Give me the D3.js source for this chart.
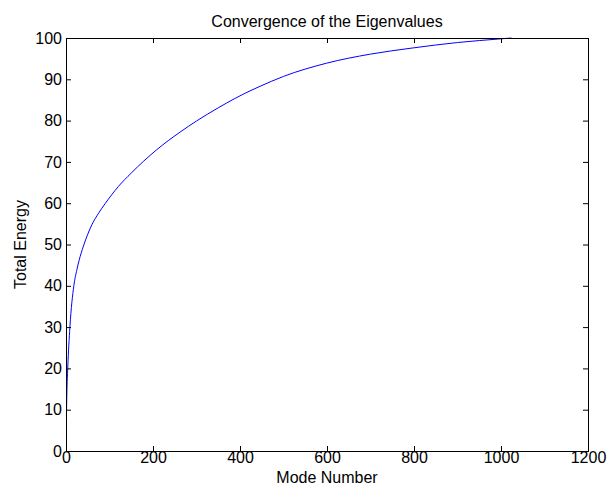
<!DOCTYPE html>
<html>
<head>
<meta charset="utf-8">
<script src="https://cdn.jsdelivr.net/npm/d3@7"></script>
<style>
body { margin: 0; background: #fff; }
text { font-family: "Liberation Sans", Arial, sans-serif; }
</style>
</head>
<body>
<svg id="chart" width="609" height="491"></svg>
<script>
// values
var modes  = [1, 2, 4, 9, 18, 25, 30, 40, 50, 60, 75, 90, 120, 150, 208, 262, 300, 350, 423, 446, 500, 599, 700, 798, 900, 1000, 1024];
var energy = [8.3, 14, 20, 30, 40, 43.9, 46.1, 49.6, 52.5, 54.9, 57.6, 59.9, 64.0, 67.3, 72.9, 77.2, 79.9, 83.1, 87.2, 88.3, 90.7, 93.9, 96.1, 97.6, 98.9, 99.8, 100];
var xTicks = [0, 200, 400, 600, 800, 1000, 1200];
var yTicks = [0, 10, 20, 30, 40, 50, 60, 70, 80, 90, 100];

var svg = d3.select('#chart');
// plot box edges (note: "top" is taken by window.top)
var boxLeft = 66, boxRight = 588, boxTop = 38, boxBottom = 451;

var x = d3.scaleLinear().domain([0, 1200]).range([boxLeft, boxRight]);
var y = d3.scaleLinear().domain([0, 100]).range([boxBottom, boxTop]);

//curve first, box drawn on top
var line = d3.line()
    .x(function(d, i){ return x(modes[i]); })
    .y(function(d){ return y(d); })
    .curve(d3.curveMonotoneX);

svg.append('path')
    .datum(energy)
    .attr('d', line)
    .attr('fill', 'none')
    .attr('stroke', '#0000ff')
    .attr('stroke-width', 1);

// bottom axis with labels
svg.append('g')
    .attr('transform', 'translate(0,' + boxBottom + ')')
    .call(d3.axisBottom(x).tickValues(xTicks).tickSize(-5).tickPadding(1).tickFormat(d3.format('d')));
// top axis, ticks only
svg.append('g')
    .attr('transform', 'translate(0,' + boxTop + ')')
    .call(d3.axisTop(x).tickValues(xTicks).tickSize(-5).tickFormat(''));
// left axis with labels
svg.append('g')
    .attr('transform', 'translate(' + boxLeft + ',0)')
    .call(d3.axisLeft(y).tickValues(yTicks).tickSize(-5).tickPadding(4).tickFormat(d3.format('d')));
// right axis, ticks only
svg.append('g')
    .attr('transform', 'translate(' + boxRight + ',0)')
    .call(d3.axisRight(y).tickValues(yTicks).tickSize(-5).tickFormat(''));

svg.selectAll('.domain').attr('stroke', '#000').attr('stroke-width', 1);
svg.selectAll('.tick line').attr('stroke', '#000');
svg.selectAll('.tick text')
    .attr('fill', '#000')
    .style('font-size', '16px')
    .style('font-family', '"Liberation Sans", Arial, sans-serif');

svg.append('text')
    .attr('x', (boxLeft + boxRight) / 2)
    .attr('y', 27)
    .attr('text-anchor', 'middle')
    .style('font-size', '16px')
    .text('Convergence of the Eigenvalues');

svg.append('text')
    .attr('x', (boxLeft + boxRight) / 2)
    .attr('y', 483)
    .attr('text-anchor', 'middle')
    .style('font-size', '16px')
    .text('Mode Number');

svg.append('text')
    .attr('transform', 'translate(26,' + (boxTop + boxBottom) / 2 + ') rotate(-90)')
    .attr('text-anchor', 'middle')
    .style('font-size', '16px')
    .text('Total Energy');
</script>
</body>
</html>
